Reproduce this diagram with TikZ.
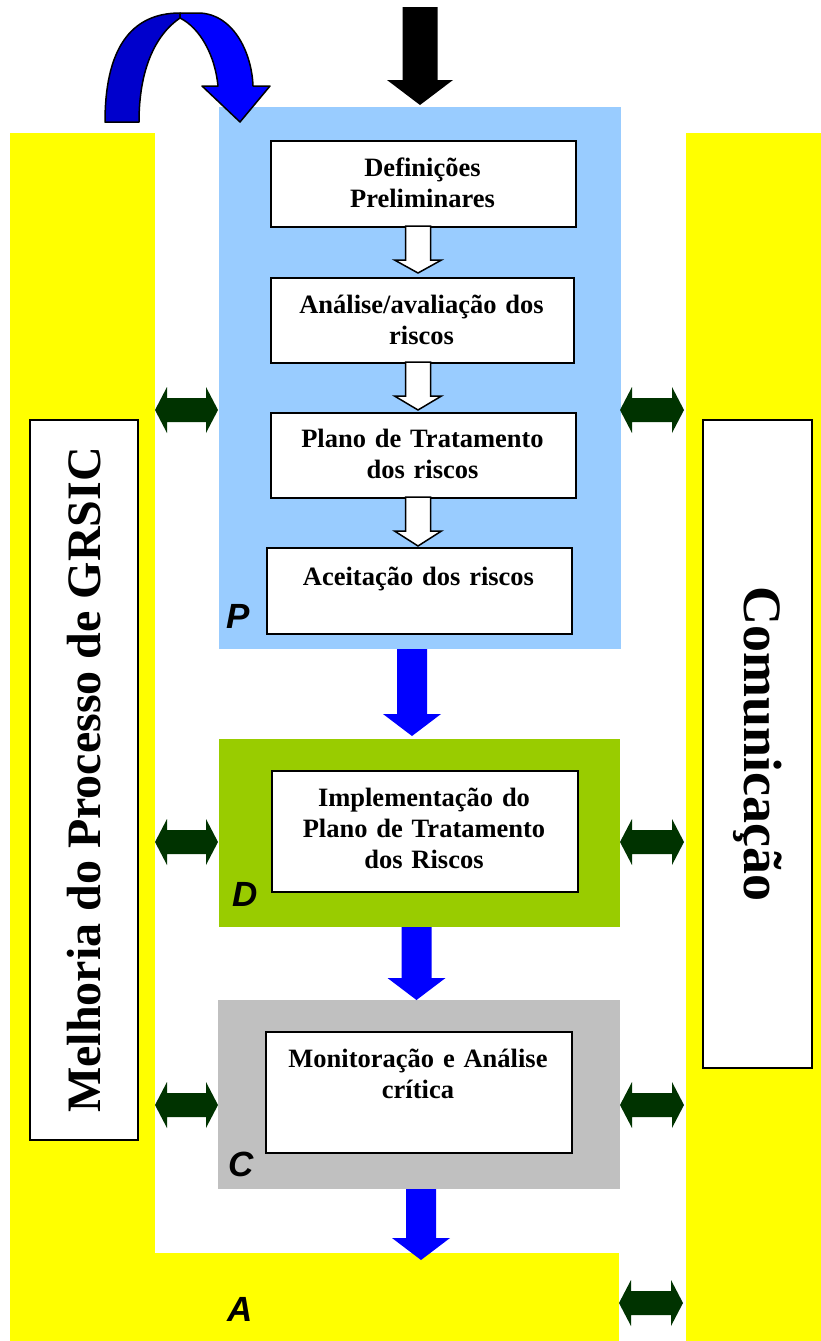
\documentclass[tikz,border=0pt]{standalone}
\usepackage{fontspec}
\setmainfont{Liberation Serif}
\newfontfamily\labelfont{Liberation Sans}
\usetikzlibrary{calc}
\definecolor{pblue}{HTML}{99CCFF}
\definecolor{dgreen}{HTML}{99CC00}
\definecolor{cgray}{HTML}{C0C0C0}
\definecolor{yel}{HTML}{FFFF00}
\definecolor{darkg}{HTML}{003300}
\definecolor{arrblue}{HTML}{0000FF}
\definecolor{backblue}{HTML}{0000CC}
% vertical block arrow: style, from, to, shaft half, head half, head length
\newcommand\DownBlock[6]{%
  \path[#1] let \p1=(#2), \p2=(#3) in
    (\x1-#4,\y1) -- (\x1+#4,\y1) -- (\x1+#4,\y2+#6) -- (\x1+#5,\y2+#6) -- (\x1,\y2)
    -- (\x1-#5,\y2+#6) -- (\x1-#4,\y2+#6) -- cycle;}
% horizontal double block arrow: style, left, right
\newcommand\BothBlock[3]{%
  \path[#1] let \p1=(#2), \p2=(#3) in
    (\x1,\y1) -- (\x1+12pt,\y1+23pt) -- (\x1+12pt,\y1+12pt) -- (\x2-12pt,\y1+12pt)
    -- (\x2-12pt,\y1+23pt) -- (\x2,\y1) -- (\x2-12pt,\y1-23pt) -- (\x2-12pt,\y1-12pt)
    -- (\x1+12pt,\y1-12pt) -- (\x1+12pt,\y1-23pt) -- cycle;}
\begin{document}
\begin{tikzpicture}[x=1pt,y=-1pt,
  phase/.style={inner sep=0pt, outer sep=0pt, anchor=north west},
  wbox/.style={draw=black, line width=2pt, fill=white, inner sep=0pt, anchor=north west},
  btext/.style={font=\fontsize{26.5pt}{31pt}\selectfont\bfseries, text width=310pt, align=center, inner sep=0pt, anchor=base},
  plabel/.style={font=\labelfont\fontsize{35pt}{35pt}\selectfont\bfseries\itshape, inner sep=0pt, anchor=base west},
  hollow/.style={draw=black, line width=1.5pt, fill=white, line join=miter},
  bluearr/.style={fill=arrblue},
  blackarr/.style={fill=black},
  dbl/.style={fill=darkg},
  curvearr/.style={draw=black, line width=1.5pt, line join=round},
  sidebox/.style={draw=black, line width=1.5pt, fill=white, inner sep=0pt, font=\fontsize{48pt}{48pt}\selectfont\bfseries}]
\useasboundingbox[fill=white] (0,0) rectangle (821,1341);
% yellow frame
\node[phase, fill=yel, minimum width=145pt, minimum height=1208pt] (leftcol) at (10,133) {};
\node[phase, fill=yel, minimum width=609pt, minimum height=88pt] (abar) at (10,1253) {};
\node[phase, fill=yel, minimum width=135pt, minimum height=1208pt] (rightcol) at (686,133) {};
% phases
\node[phase, fill=pblue, minimum width=402pt, minimum height=542pt] (P) at (219,107) {};
\node[phase, fill=dgreen, minimum width=401pt, minimum height=188pt] (D) at (219,739) {};
\node[phase, fill=cgray, minimum width=402pt, minimum height=189pt] (C) at (218,1000) {};
% white boxes
\node[wbox, minimum width=305pt, minimum height=86pt] (b1) at (270,140) {};
\node[wbox, minimum width=303pt, minimum height=85pt] (b2) at (270,277) {};
\node[wbox, minimum width=305pt, minimum height=85pt] (b3) at (270,412) {};
\node[wbox, minimum width=305pt, minimum height=86pt] (b4) at (266,547) {};
\node[wbox, minimum width=306pt, minimum height=121pt] (b5) at (271,770) {};
\node[wbox, minimum width=306pt, minimum height=121pt] (b6) at (265,1031) {};
% texts
\node[btext] (t1) at (422.5,176) {Definições\\Preliminares};
\node[btext] (t2) at (421.5,313) {Análise/avaliação dos\\riscos};
\node[btext] (t3) at (422.5,447) {Plano de Tratamento\\dos riscos};
\node[btext] (t4) at (418.5,585) {Aceitação dos riscos};
\node[btext] (t5) at (424,806) {Implementação do\\Plano de Tratamento\\dos Riscos};
\node[btext] (t6) at (418,1067) {Monitoração e Análise\\crítica};
% phase letters
\node[plabel] (lP) at (226,628) {P};
\node[plabel] (lD) at (232,906) {D};
\node[plabel] (lC) at (228,1176) {C};
\node[plabel] (lA) at (227,1321) {A};
% hollow arrows
\coordinate (h1s) at (418,226); \coordinate (h1e) at (418,273);
\coordinate (h2s) at (418,362); \coordinate (h2e) at (418,410);
\coordinate (h3s) at (418,497); \coordinate (h3e) at (418,546);
\DownBlock{hollow}{h1s}{h1e}{12.5pt}{23.5pt}{13pt}
\DownBlock{hollow}{h2s}{h2e}{12.5pt}{23.5pt}{14pt}
\DownBlock{hollow}{h3s}{h3e}{12.5pt}{23.5pt}{15pt}
% blue arrows
\coordinate (a1s) at (412,649); \coordinate (a1e) at (412,736);
\coordinate (a2s) at (416.5,927); \coordinate (a2e) at (416.5,1000);
\coordinate (a3s) at (421,1189); \coordinate (a3e) at (421,1260);
\DownBlock{bluearr}{a1s}{a1e}{15pt}{29pt}{22pt}
\DownBlock{bluearr}{a2s}{a2e}{15pt}{29pt}{22pt}
\DownBlock{bluearr}{a3s}{a3e}{15pt}{29pt}{22pt}
% black input arrow
\coordinate (ins) at (420,7); \coordinate (ine) at (420,105);
\DownBlock{blackarr}{ins}{ine}{17.5pt}{33pt}{25pt}
% double arrows
\coordinate (l1a) at (155,410); \coordinate (l1b) at (218,410);
\coordinate (l2a) at (155,842); \coordinate (l2b) at (218,842);
\coordinate (l3a) at (155,1105); \coordinate (l3b) at (218,1105);
\coordinate (r1a) at (620,410); \coordinate (r1b) at (684,410);
\coordinate (r2a) at (620,842); \coordinate (r2b) at (684,842);
\coordinate (r3a) at (620,1105); \coordinate (r3b) at (684,1105);
\coordinate (r4a) at (619,1303); \coordinate (r4b) at (683,1303);
\BothBlock{dbl}{l1a}{l1b}
\BothBlock{dbl}{l2a}{l2b}
\BothBlock{dbl}{l3a}{l3b}
\BothBlock{dbl}{r1a}{r1b}
\BothBlock{dbl}{r2a}{r2b}
\BothBlock{dbl}{r3a}{r3b}
\BothBlock{dbl}{r4a}{r4b}
% curved feedback arrow
\path[curvearr, fill=backblue] (105,122) .. controls (105,50) and (130,13) .. (180,13)
  -- (180,18) .. controls (155,35) and (139,70) .. (139,122) -- cycle;
\path[curvearr, fill=arrblue] (180,18) .. controls (200,28) and (215,55) .. (218,86)
  -- (202,86) -- (240,122) -- (270,86) -- (253,86)
  .. controls (252,55) and (235,15) .. (200,13) -- (180,13) -- cycle;
% side boxes
\node[sidebox, rotate=90, minimum width=720pt, minimum height=108pt] (melh) at (84,780) {Melhoria do Processo de GRSIC};
\node[sidebox, rotate=-90, minimum width=648pt, minimum height=109pt, font=\fontsize{54pt}{54pt}\selectfont\bfseries] (comu) at (757.5,744) {Comunicação};
\end{tikzpicture}
\end{document}
